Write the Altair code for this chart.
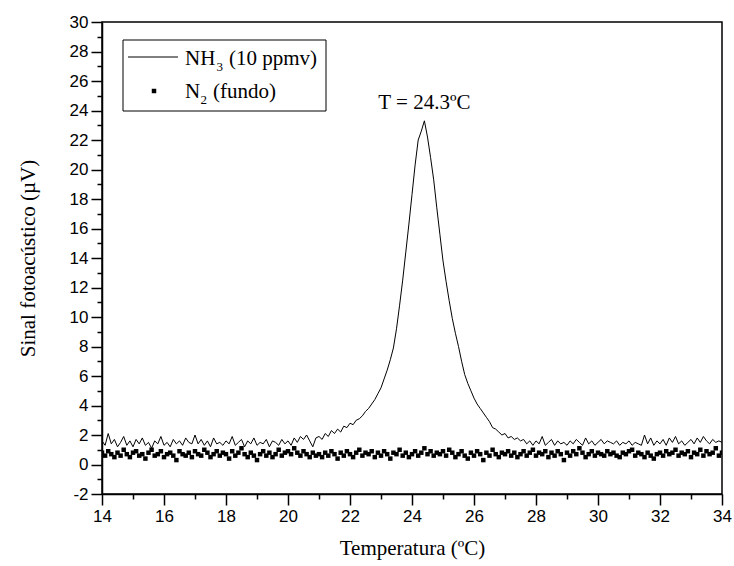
import altair as alt
import pandas as pd

# sampling grid of temperatures (ºC), step 0.1
temperature = [round(14 + 0.1 * i, 1) for i in range(201)]

# NH3 (10 ppmv) photoacoustic signal (µV)
nh3 = [
    1.6, 1.3, 2.1, 1.4, 1.7, 1.2, 1.5, 1.9, 1.3, 1.6,   # 14.x
    1.2, 1.7, 1.4, 1.8, 1.3, 1.5, 1.1, 1.6, 1.4, 1.9,   # 15.x
    1.3, 1.5, 1.2, 1.7, 1.4, 1.6, 1.3, 1.8, 1.5, 1.4,   # 16.x
    2.0, 1.4, 1.7, 1.3, 1.6, 1.2, 1.8, 1.4, 1.5, 1.3,   # 17.x
    1.6, 1.4, 1.9, 1.3, 1.5, 1.7, 1.2, 1.6, 1.4, 1.8,   # 18.x
    1.3, 1.5, 1.4, 1.7, 1.2, 1.6, 1.5, 1.3, 1.7, 1.4,   # 19.x
    1.6, 1.3, 1.8, 1.5, 1.9, 1.7, 2.0, 1.6, 1.2, 1.8,   # 20.x
    1.9, 1.7, 2.1, 1.9, 2.3, 2.1, 2.4, 2.2, 2.6, 2.5,   # 21.x
    2.8, 2.7, 3.0, 3.1, 3.3, 3.6, 3.8, 4.1, 4.4, 4.8,   # 22.x
    5.2, 5.8, 6.4, 7.1, 7.9, 9.2, 10.8, 12.5, 14.4, 16.3,  # 23.x
    18.3, 20.3, 22.0, 22.6, 23.3, 22.2, 20.8, 19.3, 17.4, 15.6,  # 24.x
    13.8, 12.4, 11.1, 9.9, 8.9, 8.0, 7.0, 6.1, 5.5, 5.0,  # 25.x
    4.5, 4.1, 3.8, 3.5, 3.2, 2.9, 2.5, 2.4, 2.2, 2.0,   # 26.x
    2.1, 1.8, 1.9, 1.7, 1.8, 1.6, 1.7, 1.4, 1.6, 1.3,   # 27.x
    1.6, 1.4, 1.9, 1.3, 1.5, 1.7, 1.3, 1.6, 1.4, 1.5,   # 28.x
    1.3, 1.6, 1.4, 1.7, 1.5, 1.3, 1.8, 1.4, 1.6, 1.3,   # 29.x
    1.5, 1.7, 1.4, 1.6, 1.5, 1.4, 1.6, 1.3, 1.5, 1.4,   # 30.x
    1.6, 1.3, 1.5, 1.4, 1.3, 2.0, 1.4, 1.8, 1.3, 1.6,   # 31.x
    1.4, 1.7, 1.3, 1.8, 1.5, 1.9, 1.4, 1.6, 1.3, 1.5,   # 32.x
    1.7, 1.4, 1.8, 1.5, 1.9, 1.6, 1.4, 1.7, 1.5, 1.6,   # 33.x
    1.5,                                                # 34.0
]

# N2 background signal (µV)
n2 = [
    0.8, 0.6, 0.9, 0.7, 0.5, 0.8, 0.6, 1.0, 0.7, 0.5,
    0.8, 0.9, 0.6, 0.7, 0.4, 0.8, 1.0, 0.6, 0.7, 0.9,
    0.5, 0.7, 0.8, 0.6, 0.3, 0.9, 0.7, 0.6, 0.8, 0.5,
    0.9, 0.7, 0.6, 1.0, 0.8, 0.5, 0.7, 0.9, 0.6, 0.8,
    0.7, 0.4, 0.9, 0.6, 0.8, 1.1, 0.7, 0.5, 0.8, 0.6,
    0.3, 0.7, 0.9, 0.6, 0.8, 0.5, 0.7, 1.0, 0.6, 0.8,
    0.9, 0.7, 1.1, 0.8, 0.6, 0.9, 0.7, 0.5, 0.8, 0.6,
    0.7, 0.5, 0.8, 0.6, 0.9, 0.7, 0.4, 0.8, 0.6, 0.9,
    0.7, 0.5, 0.8, 1.0, 0.6, 0.8, 0.7, 0.9, 0.5, 0.8,
    0.6, 0.9, 0.7, 0.4, 0.8, 0.7, 1.0, 0.6, 0.8, 0.5,
    0.7, 0.9, 0.6, 0.8, 1.1, 0.7, 0.9, 0.6, 0.8, 0.7,
    0.9, 0.6, 1.0, 0.8, 0.5, 0.7, 0.9, 0.6, 0.4, 0.8,
    0.6, 0.9, 0.7, 0.3, 0.8, 0.6, 1.0, 0.7, 0.5, 0.8,
    0.7, 0.9, 0.6, 0.8, 0.5, 0.7, 0.9, 0.6, 0.8, 1.0,
    0.6, 0.8, 0.7, 0.9, 0.5, 0.8, 0.6, 0.9, 0.7, 0.3,
    0.8, 0.6, 0.9, 0.7, 1.1, 0.8, 0.5, 0.7, 0.9, 0.6,
    0.8, 0.7, 0.6, 0.9, 0.7, 0.8, 0.6, 0.5, 0.8, 0.7,
    0.9, 1.0, 0.6, 0.8, 0.7, 0.5, 0.8, 0.6, 0.4, 0.7,
    0.8, 0.6, 0.9, 0.7, 0.8, 1.0, 0.6, 0.8, 0.7, 0.9,
    0.5, 0.8, 0.7, 1.0, 0.6, 0.9, 0.7, 0.8, 1.1, 0.6,
    0.8,
]

x_major_ticks = list(range(14, 35, 2))
x_minor_ticks = list(range(15, 34, 2))
y_major_ticks = list(range(-2, 31, 2))
y_minor_ticks = list(range(-1, 30, 2))
x_domain = [14, 34]
y_domain = [-2, 30]

annot_x = [24.4]
annot_y = [24.5]
annot_text = ["T = 24.3ºC"]

SERIF = "Liberation Serif"
SANS = "Liberation Sans"

df = pd.DataFrame({"T": temperature, "NH3": nh3, "N2": n2})

common = dict(
    grid=False,
    labelFont=SANS, labelFontSize=17, labelColor="black", labelPadding=3,
    titleFont=SERIF, titleFontSize=21, titleFontWeight="normal", titleColor="black",
    domainColor="black", domainWidth=1.5, tickColor="black", tickWidth=1.5,
    tickSize=11, labelFlush=False, labelOverlap=False,
)

x_major = alt.Axis(values=x_major_ticks, title="Temperatura (ºC)", orient="bottom",
                   labelExpr="'' + datum.value", titlePadding=13, **common)
y_major = alt.Axis(values=y_major_ticks, title="Sinal fotoacústico (µV)", orient="left",
                   labelExpr="'' + datum.value", titlePadding=31, **common)

minor = dict(labels=False, title=None, domain=False, grid=False,
             tickSize=5, tickColor="black", tickWidth=1.5)
x_minor = alt.Axis(values=x_minor_ticks, orient="bottom", **minor)
y_minor = alt.Axis(values=y_minor_ticks, orient="left", **minor)

xs = alt.Scale(domain=x_domain, nice=False, zero=False)
ys = alt.Scale(domain=y_domain, nice=False, zero=False)

base = alt.Chart(df)

line = base.mark_line(color="black", strokeWidth=1, clip=True).encode(
    x=alt.X("T:Q", scale=xs, axis=x_major),
    y=alt.Y("NH3:Q", scale=ys, axis=y_major),
)
dots = base.mark_square(size=20, color="black", opacity=1, clip=True).encode(
    x=alt.X("T:Q", scale=xs, axis=x_minor),
    y=alt.Y("N2:Q", scale=ys, axis=y_minor),
)

annot = alt.Chart(pd.DataFrame({"x": annot_x, "y": annot_y, "t": annot_text})).mark_text(
    font=SERIF, fontSize=21, color="black", align="center", baseline="middle"
).encode(x=alt.X("x:Q", scale=xs, axis=None), y=alt.Y("y:Q", scale=ys, axis=None), text="t:N")

one = pd.DataFrame({"k": [0]})
legend_box = alt.Chart(one).mark_rect(fill="white", stroke="black", strokeWidth=1).encode(
    x=alt.value(21), x2=alt.value(224), y=alt.value(18), y2=alt.value(89)
)
legend_line = alt.Chart(one).mark_rule(color="black", strokeWidth=1).encode(
    x=alt.value(26), x2=alt.value(76), y=alt.value(35)
)
legend_sq = alt.Chart(one).mark_square(size=20, color="black", opacity=1).encode(
    x=alt.value(52), y=alt.value(69)
)

def txt(s, x, y, size=21):
    return alt.Chart(one).mark_text(
        text=s, font=SERIF, fontSize=size, color="black", align="left", baseline="alphabetic"
    ).encode(x=alt.value(x), y=alt.value(y))

legend_texts = [
    txt("NH", 83, 43),
    txt("3", 114.5, 49, 13),
    txt("(10 ppmv)", 127, 43),
    txt("N", 83, 76),
    txt("2", 98.5, 82, 13),
    txt("(fundo)", 111, 76),
]

chart = alt.layer(line, dots, annot, legend_box, legend_line, legend_sq, *legend_texts).resolve_axis(
    x="independent", y="independent"
).properties(
    width=620, height=472,
    padding={"left": 102, "top": 22, "right": 12, "bottom": 72},
    autosize=alt.AutoSizeParams(type="none"),
    background="white",
).configure_view(stroke="black", strokeWidth=1.5)

chart.save("out.html", embed_options={"renderer": "svg", "actions": False})
